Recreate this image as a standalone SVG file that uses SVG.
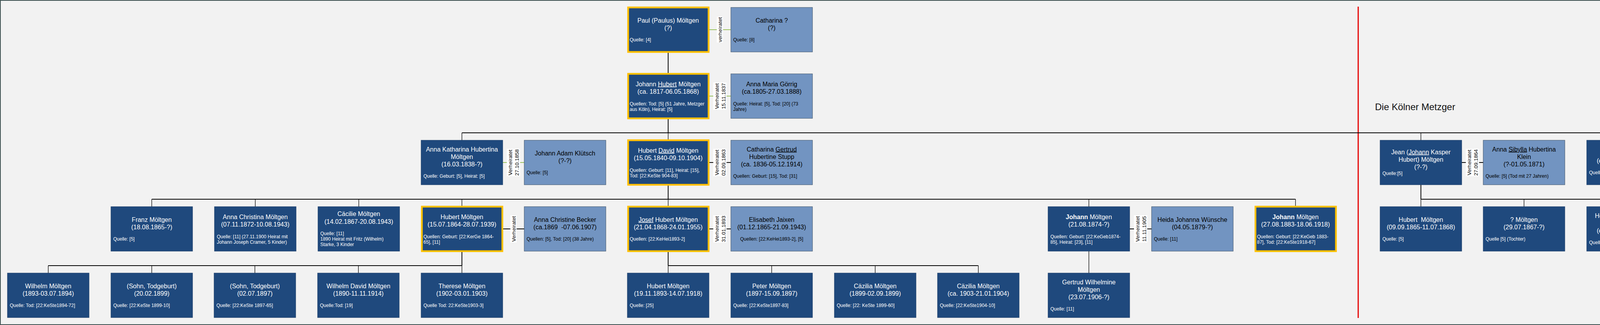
<svg xmlns="http://www.w3.org/2000/svg" width="4819" height="832" viewBox="0 0 4819 832">
<style>
.dk{fill:#1F497D;stroke:#1a3d69;stroke-width:1}
.lt{fill:#7294c1;stroke:#3e5266;stroke-width:1}
.gd{fill:#1F497D;stroke:#FFC000;stroke-width:4.5}
text{font-family:"Liberation Sans",Arial,sans-serif}
.nw{font-size:16px;fill:#fff;text-anchor:middle}
.nb{font-size:16px;fill:#000;text-anchor:middle}
.sw{font-size:12px;fill:#fff}
.sb{font-size:12px;fill:#000}
.u{text-decoration:underline}
.b{font-weight:bold}
.bus{stroke:#000;stroke-width:2;fill:none}
.drop{stroke:#000;stroke-width:1.3;fill:none}
.mg{stroke:#9bc25f;stroke-width:2}
.mk{stroke:#000;stroke-width:2}
.ml{font-size:13.5px;fill:#000;text-anchor:middle}
.lbg{fill:#fff}
</style>
<rect x="1" y="1" width="4817" height="830" fill="#f2f2f2" stroke="#3c5050" stroke-width="2"/>
<line x1="3477" y1="17" x2="3477" y2="814" stroke="#e60000" stroke-width="3"/>
<text x="3520" y="282" style="font-size:24px;fill:#111">Die Kölner Metzger</text>

<g id="connectors">
<line class="bus" x1="1710.5" y1="133" x2="1710.5" y2="189"/>
<line class="bus" x1="1710.5" y1="303" x2="1710.5" y2="340"/>
<line class="bus" x1="1182.5" y1="340" x2="4166.5" y2="340"/>
<line class="drop" x1="1182.5" y1="340" x2="1182.5" y2="359"/>
<line class="drop" x1="1710.5" y1="340" x2="1710.5" y2="357"/>
<line class="drop" x1="3637.5" y1="340" x2="3637.5" y2="359"/>
<line class="drop" x1="4166.5" y1="340" x2="4166.5" y2="359"/>
<line class="bus" x1="1710.5" y1="475" x2="1710.5" y2="510"/>
<line class="bus" x1="388.5" y1="510" x2="3316.5" y2="510"/>
<line class="drop" x1="388.5" y1="510" x2="388.5" y2="529"/>
<line class="drop" x1="653.5" y1="510" x2="653.5" y2="529"/>
<line class="drop" x1="918.5" y1="510" x2="918.5" y2="529"/>
<line class="drop" x1="1182.5" y1="510" x2="1182.5" y2="527"/>
<line class="drop" x1="1710.5" y1="510" x2="1710.5" y2="527"/>
<line class="drop" x1="2787.5" y1="510" x2="2787.5" y2="529"/>
<line class="drop" x1="3316.5" y1="510" x2="3316.5" y2="527"/>
<line class="bus" x1="1182.5" y1="645" x2="1182.5" y2="680"/>
<line class="bus" x1="123.5" y1="680" x2="1182.5" y2="680"/>
<line class="drop" x1="123.5" y1="680" x2="123.5" y2="699"/>
<line class="drop" x1="388.5" y1="680" x2="388.5" y2="699"/>
<line class="drop" x1="652.5" y1="680" x2="652.5" y2="699"/>
<line class="drop" x1="917.5" y1="680" x2="917.5" y2="699"/>
<line class="drop" x1="1182.5" y1="680" x2="1182.5" y2="699"/>
<line class="bus" x1="1710.5" y1="645" x2="1710.5" y2="680"/>
<line class="bus" x1="1710.5" y1="680" x2="2504.5" y2="680"/>
<line class="drop" x1="1710.5" y1="680" x2="1710.5" y2="699"/>
<line class="drop" x1="1975.5" y1="680" x2="1975.5" y2="699"/>
<line class="drop" x1="2240.5" y1="680" x2="2240.5" y2="699"/>
<line class="drop" x1="2504.5" y1="680" x2="2504.5" y2="699"/>
<line class="drop" x1="2787.5" y1="643" x2="2787.5" y2="699"/>
<line class="bus" x1="3637.5" y1="473" x2="3637.5" y2="510"/>
<line class="bus" x1="3637.5" y1="510" x2="4695.5" y2="510"/>
<line class="drop" x1="3637.5" y1="510" x2="3637.5" y2="529"/>
<line class="drop" x1="3901.5" y1="510" x2="3901.5" y2="529"/>
<line class="drop" x1="4166.5" y1="510" x2="4166.5" y2="529"/>
<line class="drop" x1="4431.5" y1="510" x2="4431.5" y2="529"/>
<line class="drop" x1="4695.5" y1="510" x2="4695.5" y2="529"/>
<!-- marriages -->
<line class="mg" x1="1815" y1="76" x2="1871" y2="76"/>
<g transform="translate(1843,76) rotate(-90)"><rect class="lbg" x="-33" y="-8" width="66" height="16"/><text class="ml" x="0" y="5">verheiratet</text></g>
<line class="mg" x1="1815" y1="246" x2="1871" y2="246"/>
<g transform="translate(1843,246) rotate(-90)"><rect class="lbg" x="-35" y="-17" width="70" height="34"/><text class="ml" x="0" y="-3.5">Verheiratet</text><text class="ml" x="0" y="13.5">15.11.1837</text></g>
<line class="mg" x1="1287" y1="416" x2="1342" y2="416"/>
<g transform="translate(1314.5,416) rotate(-90)"><rect class="lbg" x="-35" y="-17" width="70" height="34"/><text class="ml" x="0" y="-3.5">Verheiratet</text><text class="ml" x="0" y="13.5">27.10.1858</text></g>
<line class="mk" x1="1815" y1="416" x2="1871" y2="416"/>
<g transform="translate(1843,416) rotate(-90)"><rect class="lbg" x="-35" y="-17" width="70" height="34"/><text class="ml" x="0" y="-3.5">Verheiratet</text><text class="ml" x="0" y="13.5">02.09.1863</text></g>
<line class="mk" x1="3742" y1="416" x2="3797" y2="416"/>
<g transform="translate(3769.5,416) rotate(-90)"><rect class="lbg" x="-35" y="-17" width="70" height="34"/><text class="ml" x="0" y="-3.5">Verheiratet</text><text class="ml" x="0" y="13.5">27.09.1864</text></g>
<line class="mk" x1="1287" y1="586" x2="1342" y2="586"/>
<g transform="translate(1314.5,586) rotate(-90)"><rect class="lbg" x="-35" y="-8" width="70" height="16"/><text class="ml" x="0" y="5">Verheiratet</text></g>
<line class="mk" x1="1815" y1="586" x2="1871" y2="586"/>
<g transform="translate(1843,586) rotate(-90)"><rect class="lbg" x="-35" y="-17" width="70" height="34"/><text class="ml" x="0" y="-3.5">Verheiratet</text><text class="ml" x="0" y="13.5">31.01.1893</text></g>
<line class="mk" x1="2892" y1="586" x2="2948" y2="586"/>
<g transform="translate(2920,586) rotate(-90)"><rect class="lbg" x="-35" y="-17" width="70" height="34"/><text class="ml" x="0" y="-3.5">Verheiratet</text><text class="ml" x="0" y="13.5">11.11.1905</text></g>
</g>

<!-- Row 1 -->
<g id="n_paul"><rect class="gd" x="1608" y="19" width="206" height="114"/>
<text class="nw" x="1710.5" y="57.6">Paul (Paulus) Möltgen</text><text class="nw" x="1710.5" y="76.6">(?)</text>
<text class="sw" x="1612" y="106.2">Quelle: [4]</text></g>
<g id="n_catharina"><rect class="lt" x="1871" y="19" width="209" height="114"/>
<text class="nb" x="1975.5" y="57.6">Catharina ?</text><text class="nb" x="1975.5" y="76.6">(?)</text>
<text class="sb" x="1877" y="106.2">Quelle: [8]</text></g>

<!-- Row 2 -->
<g id="n_johann_hubert"><rect class="gd" x="1608" y="189" width="206" height="114"/>
<text class="nw" x="1710.5" y="220.6">Johann <tspan class="u">Hubert</tspan> Möltgen</text><text class="nw" x="1710.5" y="239.6">(ca. 1817-06.05.1868)</text>
<text class="sw" x="1612" y="270.2">Quellen: Tod: [5] (51 Jahre, Metzger</text><text class="sw" x="1612" y="284.2">aus Köln), Heirat: [5]</text></g>
<g id="n_anna_maria"><rect class="lt" x="1871" y="189" width="209" height="114"/>
<text class="nb" x="1975.5" y="220.6">Anna Maria Görrig</text><text class="nb" x="1975.5" y="239.6">(ca.1805-27.03.1888)</text>
<text class="sb" x="1877" y="270.2">Quelle: Heirat: [5], Tod: [20] (73</text><text class="sb" x="1877" y="284.2">Jahre)</text></g>

<!-- Row 3 -->
<g id="n_anna_katharina"><rect class="dk" x="1078" y="359" width="209" height="114"/>
<text class="nw" x="1182.5" y="387.6">Anna Katharina Hubertina</text><text class="nw" x="1182.5" y="406.6">Möltgen</text><text class="nw" x="1182.5" y="425.6">(16.03.1838-?)</text>
<text class="sw" x="1084" y="455.2">Quelle: Geburt: [5], Heirat: [5]</text></g>
<g id="n_kluetsch"><rect class="lt" x="1342" y="359" width="209" height="114"/>
<text class="nb" x="1446.5" y="397.6">Johann Adam Klütsch</text><text class="nb" x="1446.5" y="416.6">(?-?)</text>
<text class="sb" x="1348" y="446.2">Quelle: [5]</text></g>
<g id="n_hubert_david"><rect class="gd" x="1608" y="359" width="206" height="114"/>
<text class="nw" x="1710.5" y="390.6">Hubert <tspan class="u">David</tspan> Möltgen</text><text class="nw" x="1710.5" y="409.6">(15.05.1840-09.10.1904)</text>
<text class="sw" x="1612" y="440.2">Quellen: Geburt: [11], Heirat: [15],</text><text class="sw" x="1612" y="454.2">Tod: [22:KeSte 904-83]</text></g>
<g id="n_stupp"><rect class="lt" x="1871" y="359" width="209" height="114"/>
<text class="nb" x="1975.5" y="387.6">Catharina <tspan class="u">Gertrud</tspan></text><text class="nb" x="1975.5" y="406.6">Hubertine Stupp</text><text class="nb" x="1975.5" y="425.6">(ca. 1836-05.12.1914)</text>
<text class="sb" x="1877" y="455.2">Quellen: Geburt: [15], Tod: [31]</text></g>
<g id="n_jean"><rect class="dk" x="3533" y="359" width="209" height="114"/>
<text class="nw" x="3637.5" y="394.6">Jean (<tspan class="u">Johann</tspan> Kasper</text><text class="nw" x="3637.5" y="413.6">Hubert) Möltgen</text><text class="nw" x="3637.5" y="432.6">(?-?)</text>
<text class="sw" x="3539" y="448.2">Quelle:[5]</text></g>
<g id="n_klein"><rect class="lt" x="3797" y="359" width="209" height="114"/>
<text class="nb" x="3901.5" y="387.6">Anna <tspan class="u">Sibylla</tspan> Hubertina</text><text class="nb" x="3901.5" y="406.6">Klein</text><text class="nb" x="3901.5" y="425.6">(?-01.05.1871)</text>
<text class="sb" x="3803" y="455.2">Quelle: [5] (Tod mit 27 Jahren)</text></g>
<g id="n_agnes"><rect class="dk" x="4062" y="359" width="209" height="114"/>
<text class="nw" x="4166.5" y="397.6">Agnes Möltgen</text><text class="nw" x="4166.5" y="416.6">(ca. 1844-19.01.1850)</text>
<text class="sw" x="4068" y="446.2">Quelle: [5] (Tod mit 6 Jahren)</text></g>

<!-- Row 4 -->
<g id="n_franz"><rect class="dk" x="284" y="529" width="209" height="114"/>
<text class="nw" x="388.5" y="567.6">Franz Möltgen</text><text class="nw" x="388.5" y="586.6">(18.08.1865-?)</text>
<text class="sw" x="290" y="616.2">Quelle: [5]</text></g>
<g id="n_anna_christina"><rect class="dk" x="549" y="529" width="209" height="114"/>
<text class="nw" x="653.5" y="560.6">Anna Christina Möltgen</text><text class="nw" x="653.5" y="579.6">(07.11.1872-10.08.1943)</text>
<text class="sw" x="555" y="610.2">Quelle: [11] (27.11.1900 Heirat mit</text><text class="sw" x="555" y="624.2">Johann Joseph Cramer, 5 Kinder)</text></g>
<g id="n_caecilie"><rect class="dk" x="814" y="529" width="209" height="114"/>
<text class="nw" x="918.5" y="552.6">Cäcilie Möltgen</text><text class="nw" x="918.5" y="572.6">(14.02.1867-20.08.1943)</text>
<text class="sw" x="820" y="602.2">Quelle: [11]</text><text class="sw" x="820" y="616.2">1890 Heirat mit Fritz (Wilhelm)</text><text class="sw" x="820" y="630.2">Starke, 3 Kinder</text></g>
<g id="n_hubert"><rect class="gd" x="1080" y="529" width="206" height="114"/>
<text class="nw" x="1182.5" y="560.6">Hubert Möltgen</text><text class="nw" x="1182.5" y="579.6">(15.07.1864-28.07.1939)</text>
<text class="sw" x="1084" y="610.2">Quellen: Geburt: [22:KerGe 1864-</text><text class="sw" x="1084" y="624.2">65], [11]</text></g>
<g id="n_becker"><rect class="lt" x="1342" y="529" width="209" height="114"/>
<text class="nb" x="1446.5" y="567.6">Anna Christine Becker</text><text class="nb" x="1446.5" y="586.6">(ca.1869&#160; -07.06.1907)</text>
<text class="sb" x="1348" y="616.2">Quellen: [5], Tod: [20] (38 Jahre)</text></g>
<g id="n_josef"><rect class="gd" x="1608" y="529" width="206" height="114"/>
<text class="nw" x="1710.5" y="567.6"><tspan class="u">Josef</tspan> Hubert Möltgen</text><text class="nw" x="1710.5" y="586.6">(21.04.1868-24.01.1955)</text>
<text class="sw" x="1612" y="616.2">Quellen: [22:KeHei1893-2]</text></g>
<g id="n_jaixen"><rect class="lt" x="1871" y="529" width="209" height="114"/>
<text class="nb" x="1975.5" y="567.6">Elisabeth Jaixen</text><text class="nb" x="1975.5" y="586.6">(01.12.1865-21.09.1943)</text>
<text class="sb" x="1975.5" y="616.2" text-anchor="middle">Quellen: [22:KeHei1893-2], [5]</text></g>
<g id="n_johann1"><rect class="dk" x="2683" y="529" width="209" height="114"/>
<text class="nw" x="2787.5" y="560.6"><tspan class="b">Johann</tspan> Möltgen</text><text class="nw" x="2787.5" y="579.6">(21.08.1874-?)</text>
<text class="sw" x="2689" y="610.2">Quellen: Geburt: [22:KeGeb1874-</text><text class="sw" x="2689" y="624.2">85], Heirat: [23], [11]</text></g>
<g id="n_wuensche"><rect class="lt" x="2948" y="529" width="209" height="114"/>
<text class="nb" x="3052.5" y="567.6">Heida Johanna Wünsche</text><text class="nb" x="3052.5" y="586.6">(04.05.1879-?)</text>
<text class="sb" x="2954" y="616.2">Quelle: [11]</text></g>
<g id="n_johann2"><rect class="gd" x="3214" y="529" width="206" height="114"/>
<text class="nw" x="3316.5" y="560.6"><tspan class="b">Johann</tspan> Möltgen</text><text class="nw" x="3316.5" y="579.6">(27.08.1883-18.06.1918)</text>
<text class="sw" x="3218" y="610.2">Quellen: Geburt: [22:KeGeb 1883-</text><text class="sw" x="3218" y="624.2">87], Tod: [22:KeSte1918-67]</text></g>
<g id="n_hubert2"><rect class="dk" x="3533" y="529" width="209" height="114"/>
<text class="nw" x="3637.5" y="567.6">Hubert&#160; Möltgen</text><text class="nw" x="3637.5" y="586.6">(09.09.1865-11.07.1868)</text>
<text class="sw" x="3539" y="616.2">Quelle: [5]</text></g>
<g id="n_q1"><rect class="dk" x="3797" y="529" width="209" height="114"/>
<text class="nw" x="3901.5" y="567.6">? Möltgen</text><text class="nw" x="3901.5" y="586.6">(29.07.1867-?)</text>
<text class="sw" x="3803" y="616.2">Quelle [5] (Tochter)</text></g>
<g id="n_heinrich"><rect class="dk" x="4062" y="529" width="209" height="114"/>
<text class="nw" x="4166.5" y="557.6">Heinrich Joseph Hubert</text><text class="nw" x="4166.5" y="576.6">Möltgen</text><text class="nw" x="4166.5" y="595.6">(ca. 1867-04.05.1876)</text>
<text class="sw" x="4068" y="625.2">Quelle: [5]</text></g>
<g id="n_q2"><rect class="dk" x="4327" y="529" width="209" height="114"/>
<text class="nw" x="4431.5" y="567.6">? Möltgen</text><text class="nw" x="4431.5" y="586.6">(19.05.1869-?)</text>
<text class="sw" x="4333" y="616.2">Quelle: [5] (Tochter)</text></g>
<g id="n_max"><rect class="dk" x="4591" y="529" width="209" height="114"/>
<text class="nw" x="4695.5" y="567.6">Max Hubert Möltgen</text><text class="nw" x="4695.5" y="586.6">(06.03.1884-?)</text>
<text class="sw" x="4597" y="616.2">Quelle: [44]</text></g>

<!-- Row 5 -->
<g id="n_wilhelm"><rect class="dk" x="19" y="699" width="209" height="114"/>
<text class="nw" x="123.5" y="737.6">Wilhelm Möltgen</text><text class="nw" x="123.5" y="756.6">(1893-03.07.1894)</text>
<text class="sw" x="25" y="786.2">Quelle: Tod: [22:KeSte1894-72]</text></g>
<g id="n_sohn1"><rect class="dk" x="284" y="699" width="209" height="114"/>
<text class="nw" x="388.5" y="737.6">(Sohn, Todgeburt)</text><text class="nw" x="388.5" y="756.6">(20.02.1899)</text>
<text class="sw" x="290" y="786.2">Quelle: [22:KeSte 1899-10]</text></g>
<g id="n_sohn2"><rect class="dk" x="548" y="699" width="209" height="114"/>
<text class="nw" x="652.5" y="737.6">(Sohn, Todgeburt)</text><text class="nw" x="652.5" y="756.6">(02.07.1897)</text>
<text class="sw" x="554" y="786.2">Quelle: [22:KeSte 1897-65]</text></g>
<g id="n_wilhelm_david"><rect class="dk" x="813" y="699" width="209" height="114"/>
<text class="nw" x="917.5" y="737.6">Wilhelm David Möltgen</text><text class="nw" x="917.5" y="756.6">(1890-11.11.1914)</text>
<text class="sw" x="819" y="786.2">Quelle:Tod: [19]</text></g>
<g id="n_therese"><rect class="dk" x="1078" y="699" width="209" height="114"/>
<text class="nw" x="1182.5" y="737.6">Therese Möltgen</text><text class="nw" x="1182.5" y="756.6">(1902-03.01.1903)</text>
<text class="sw" x="1084" y="786.2">Quelle Tod: 22:KeSte1903-3]</text></g>
<g id="n_hubert3"><rect class="dk" x="1606" y="699" width="209" height="114"/>
<text class="nw" x="1710.5" y="737.6">Hubert Möltgen</text><text class="nw" x="1710.5" y="756.6">(19.11.1893-14.07.1918)</text>
<text class="sw" x="1612" y="786.2">Quelle: [25]</text></g>
<g id="n_peter"><rect class="dk" x="1871" y="699" width="209" height="114"/>
<text class="nw" x="1975.5" y="737.6">Peter Möltgen</text><text class="nw" x="1975.5" y="756.6">(1897-15.09.1897)</text>
<text class="sw" x="1877" y="786.2">Quelle: [22:KeSte1897-83]</text></g>
<g id="n_caezilia1"><rect class="dk" x="2136" y="699" width="209" height="114"/>
<text class="nw" x="2240.5" y="737.6">Cäzilia Möltgen</text><text class="nw" x="2240.5" y="756.6">(1899-02.09.1899)</text>
<text class="sw" x="2142" y="786.2">Quelle: [22: KeSte 1899-60]</text></g>
<g id="n_caezilia2"><rect class="dk" x="2400" y="699" width="209" height="114"/>
<text class="nw" x="2504.5" y="737.6">Cäzilia Möltgen</text><text class="nw" x="2504.5" y="756.6">(ca. 1903-21.01.1904)</text>
<text class="sw" x="2406" y="786.2">Quelle: [22:KeSte1904-10]</text></g>
<g id="n_gertrud"><rect class="dk" x="2683" y="699" width="209" height="114"/>
<text class="nw" x="2787.5" y="727.6">Gertrud Wilhelmine</text><text class="nw" x="2787.5" y="746.6">Möltgen</text><text class="nw" x="2787.5" y="765.6">(23.07.1906-?)</text>
<text class="sw" x="2689" y="795.2">Quelle: [11]</text></g>
</svg>
